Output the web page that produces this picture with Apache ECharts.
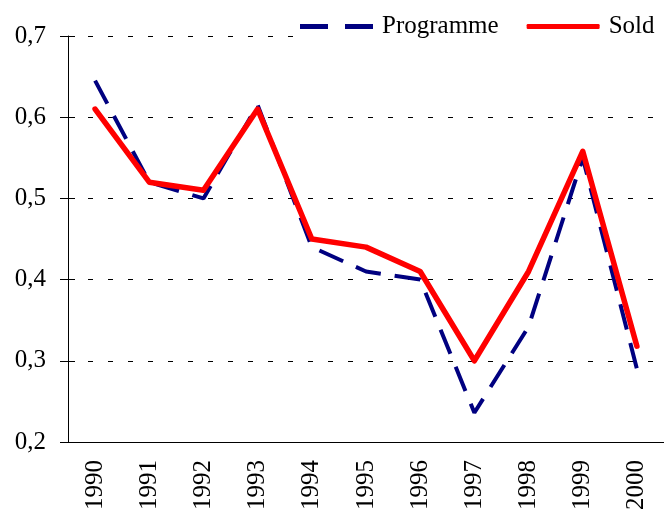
<!DOCTYPE html>
<html>
<head>
<meta charset="utf-8">
<script src="https://cdn.jsdelivr.net/npm/echarts@6/dist/echarts.min.js"></script>
<style>
    html, body { margin: 0; padding: 0; background: #fff; }
    #chart { width: 664px; height: 515px; }
</style>
</head>
<body>
<div id="chart"></div>
<script>
    // data
    var years = ['1990', '1991', '1992', '1993', '1994', '1995', '1996', '1997', '1998', '1999', '2000'];
    var programme = [0.645, 0.52, 0.50, 0.615, 0.44, 0.41, 0.40, 0.236, 0.342, 0.55, 0.29];
    var sold = [0.61, 0.52, 0.51, 0.61, 0.45, 0.44, 0.41, 0.30, 0.41, 0.558, 0.318];

    var font = 'Liberation Serif';
    var chart = echarts.init(document.getElementById('chart'));

    var option = {
        backgroundColor: '#fff',
        animation: false,
        grid: { left: 68, right: -9, top: 36, bottom: 73 },
        legend: {
            left: 296,
            top: 10,
            padding: [4, 1, 4, 4],
            backgroundColor: '#fff',
            itemWidth: 73,
            itemHeight: 5,
            itemGap: 28,
            textStyle: { fontFamily: font, fontSize: 25, color: '#000', padding: [0, 0, 0, 4] },
            data: [
                { name: 'Programme', icon: 'path://M0,0H28V5H0Z M45,0H73V5H45Z' },
                { name: 'Sold', icon: 'roundRect' }
            ]
        },
        xAxis: {
            type: 'category',
            data: years,
            boundaryGap: true,
            axisLine: { lineStyle: { color: '#000', width: 1 } },
            axisTick: { length: 7, lineStyle: { color: '#000' } },
            axisLabel: { rotate: 90, margin: 18, fontFamily: font, fontSize: 25, color: '#000' }
        },
        yAxis: [
            {
                type: 'value',
                min: 0.2,
                max: 0.7,
                interval: 0.1,
                axisLine: { show: true, lineStyle: { color: '#000', width: 1 } },
                axisTick: { show: true, length: 8, lineStyle: { color: '#000' } },
                axisLabel: {
                    margin: 22,
                    fontFamily: font, fontSize: 25, color: '#000',
                    formatter: function (v) { return v.toFixed(1).replace('.', ','); }
                },
                splitLine: { show: true, lineStyle: { color: '#000', width: 1, type: [5, 15] } }
            },
            {
                // inside half of the crossing ticks
                type: 'value',
                position: 'left',
                min: 0.2,
                max: 0.7,
                interval: 0.1,
                axisLine: { show: false },
                axisTick: { show: true, inside: true, length: 7, lineStyle: { color: '#000' } },
                axisLabel: { show: false },
                splitLine: { show: false }
            }
        ],
        series: [
            {
                name: 'Programme',
                type: 'line',
                data: programme,
                symbol: 'none',
                z: 2,
                lineStyle: { color: '#000080', width: 4, type: [26, 14] },
                itemStyle: { color: '#000080' }
            },
            {
                name: 'Sold',
                type: 'line',
                data: sold,
                symbol: 'none',
                z: 3,
                lineStyle: { color: '#ff0000', width: 5.5, cap: 'round', join: 'round' },
                itemStyle: { color: '#ff0000' }
            }
        ]
    };

    chart.setOption(option);
</script>
</body>
</html>
